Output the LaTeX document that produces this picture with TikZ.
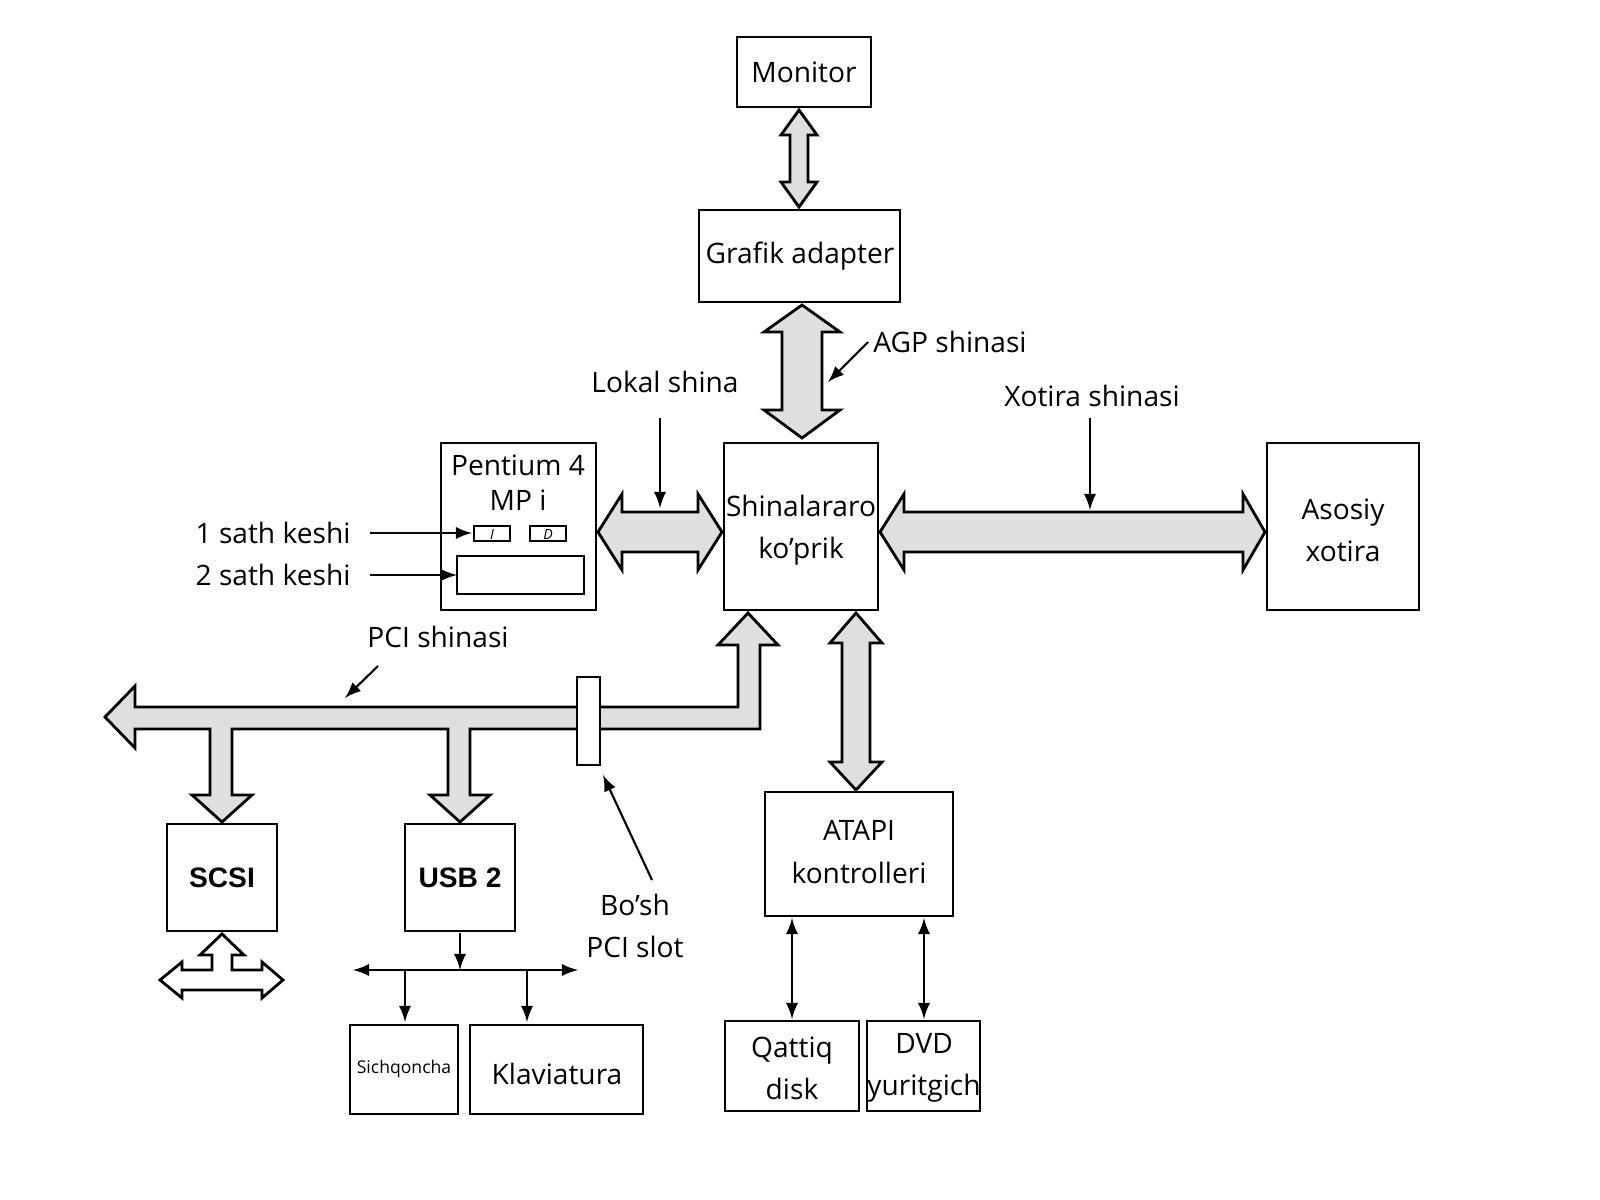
\documentclass[tikz,border=0pt]{standalone}
\usepackage{fontspec}
\setmainfont{Open Sans}
\newfontfamily\arialb{Liberation Sans}
\begin{document}
\begin{tikzpicture}[x=0.01cm,y=-0.01cm,
 box/.style={draw,line width=0.8pt,inner sep=0pt},
 fat/.style={draw,line width=0.8pt,fill=gray!25},
 thin/.style={line width=0.6pt,-latex},
 lbl/.style={font=\fontsize{8}{10}\selectfont,align=center}]
\useasboundingbox (0,0) rectangle (1600,1200);
\tikzset{every node/.style={lbl}}
% boxes
\draw[box] (737,37) rectangle (871,107); \node (mon) at (804,72) {Monitor};
\draw[box] (699,210) rectangle (900,302); \node (gra) at (800,256) {Grafik adapter};
\draw[box] (724,443) rectangle (878,610); \node (br) at (801,530) {Shinalararo\\[2pt]ko'prik};
\draw[box] (1267,443) rectangle (1419,610); \node (mem) at (1343,530) {Asosiy\\[2pt]xotira};
\draw[box] (441,443) rectangle (596,610); \node (cpu) at (518,483) {Pentium 4\\MP i};
\draw[box] (474,526) rectangle (510,541); \node[font=\fontsize{4}{4}\selectfont\itshape\rmfamily] (ci) at (492,534) {I};
\draw[box] (530,526) rectangle (566,541); \node[font=\fontsize{4}{4}\selectfont\itshape\rmfamily] (cd) at (548,534) {D};
\draw[box] (457,556) rectangle (584,594); \coordinate (l2) at (457,575);
\draw[box] (167,824) rectangle (277,931); \node[font=\arialb\bfseries\fontsize{8}{10}\selectfont] (scsi) at (222,878) {SCSI};
\draw[box] (405,824) rectangle (515,931); \node[font=\arialb\bfseries\fontsize{8}{10}\selectfont] (usb) at (460,878) {USB 2};
\draw[box] (765,792) rectangle (953,916); \node (ata) at (859,852) {ATAPI\\[2pt]kontrolleri};
\draw[box] (350,1025) rectangle (458,1114); \node[font=\fontsize{5}{6}\selectfont] (mouse) at (404,1069) {Sichqoncha};
\draw[box] (470,1025) rectangle (643,1114); \node (kb) at (557,1074) {Klaviatura};
\draw[box] (725,1021) rectangle (859,1111); \node (hd) at (792,1068) {Qattiq\\[2pt]disk};
\draw[box] (867,1021) rectangle (980,1111); \node (dvd) at (924,1068) {DVD\\[2pt]yuritgich};
% fat arrows
\draw[fat] (799,110) -- (817,135) -- (808,135) -- (808,182) -- (817,182) -- (799,207) -- (781,182) -- (790,182) -- (790,135) -- (781,135) -- cycle;
\draw[fat] (802,305) -- (840,332) -- (822,332) -- (822,410) -- (840,410) -- (802,438) -- (764,410) -- (782,410) -- (782,332) -- (764,332) -- cycle;
\draw[fat] (598,532) -- (622,494) -- (622,512) -- (698,512) -- (698,494) -- (722,532) -- (698,570) -- (698,552) -- (622,552) -- (622,570) -- cycle;
\draw[fat] (880,532) -- (904,494) -- (904,512) -- (1243,512) -- (1243,494) -- (1265,532) -- (1243,570) -- (1243,552) -- (904,552) -- (904,570) -- cycle;
\draw[fat] (856,613) -- (882,643) -- (870,643) -- (870,762) -- (882,762) -- (856,790) -- (830,762) -- (842,762) -- (842,643) -- (830,643) -- cycle;
% PCI bus
\draw[fat] (105,717) -- (135,686) -- (135,707) -- (738,707) -- (738,645) -- (718,645) -- (748,613) -- (778,645) -- (760,645) -- (760,729)
 -- (470,729) -- (470,795) -- (490,795) -- (460,822) -- (430,795) -- (448,795) -- (448,729)
 -- (232,729) -- (232,795) -- (252,795) -- (222,822) -- (192,795) -- (210,795) -- (210,729)
 -- (135,729) -- (135,748) -- cycle;
\draw[box,fill=white] (577,677) rectangle (600,765);
% SCSI connector
\draw[line width=0.8pt,fill=white] (222,934) -- (244,955) -- (232,955) -- (232,970) -- (262,970) -- (262,962) -- (283,980) -- (262,998) -- (262,990) -- (182,990) -- (182,998) -- (160,980) -- (182,962) -- (182,970) -- (212,970) -- (212,955) -- (200,955) -- cycle;
% USB thin
\coordinate (uj) at (460,970);
\draw[thin] (usb.south |- 0,933) -- (uj);
\draw[line width=0.6pt,latex-latex] (353,970) -- (578,970);
\draw[thin] (405,970) -- (405,1022);
\draw[thin] (527,970) -- (527,1022);
\draw[line width=0.6pt,latex-latex] (792,918) -- (792,1019);
\draw[line width=0.6pt,latex-latex] (924,918) -- (924,1019);
% labels
\node (k1) at (273,533) {1 sath keshi};
\node (k2) at (273,575) {2 sath keshi};
\draw[thin] (370,533) -- (472,533);
\draw[thin] (370,575) -- (l2);
\node (lok) at (665,382) {Lokal shina};
\draw[thin] (660,418) -- (660,508);
\node (agp) at (950,342) {AGP shinasi};
\draw[thin] (868,342) -- (828,382);
\node (xs) at (1092,396) {Xotira shinasi};
\draw[thin] (1090,418) -- (1090,510);
\node (pci) at (438,637) {PCI shinasi};
\draw[thin] (378,666) -- (345,698);
\node (slot) at (635,926) {Bo'sh\\[2pt]PCI slot};
\draw[thin] (652,880) -- (603,775);
\end{tikzpicture}
\end{document}
